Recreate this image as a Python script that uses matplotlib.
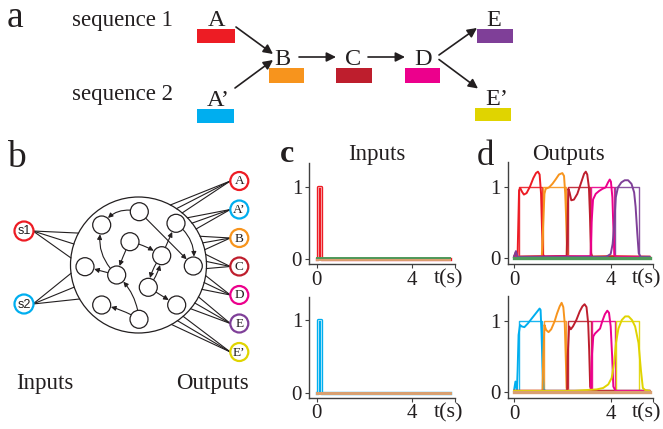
import numpy as np
import matplotlib
matplotlib.use('Agg')
import matplotlib.pyplot as plt
from matplotlib.patches import Circle, Rectangle

plt.rcParams['font.family'] = ['Liberation Serif', 'DejaVu Serif']

# ---------------- data ----------------
COL = {'A': '#ED1C24', 'A’': '#00AEEF', 'B': '#F7941D', 'C': '#BE1E2D',
       'D': '#EC008C', 'E': '#7F3F98', 'E’': '#E0D400'}
INK = '#231F20'
AX = '#404040'

# inputs (panel c)
input1_t = [0, 0.05, 0.05, 0.2, 0.2, 5.6]
input1_v = [0, 0, 1, 1, 0, 0]
input2_t = [0, 0.05, 0.05, 0.2, 0.2, 5.6]
input2_v = [0, 0, 1, 1, 0, 0]
baseline_t = [0, 5.62]
baseline_v = [0, 0]

# targets (panel d)
seq1_labels = ['A', 'B', 'C', 'D', 'E']
seq1_start = [0.20, 1.22, 2.22, 3.20, 4.18]
seq1_end = [1.16, 2.17, 3.16, 4.12, 5.16]
seq2_labels = ['A’', 'B', 'C', 'D', 'E’']
seq2_start = [0.22, 1.24, 2.24, 3.21, 4.22]
seq2_end = [1.17, 2.17, 3.17, 4.18, 5.19]

# network outputs, sequence 1
out1_A_t = [0, 0.07, 0.12, 0.15, 0.18, 0.21, 0.26, 0.33, 0.41, 0.52, 0.66, 0.80, 0.91, 0.99, 1.06, 1.12, 1.16, 1.20, 1.27, 2.0, 3.0, 4.0, 5.6]
out1_A_v = [0.02, 0.08, 0.01, 0.05, 0.5, 0.95, 0.98, 0.93, 0.89, 0.91, 1.0, 1.12, 1.19, 1.21, 1.17, 0.9, 0.4, 0.05, 0.02, 0.03, 0.02, 0.03, 0.02]
out1_B_t = [0, 1.15, 1.21, 1.26, 1.31, 1.45, 1.59, 1.72, 1.86, 2.0, 2.07, 2.12, 2.17, 2.21, 2.3, 5.6]
out1_B_v = [0.02, 0.03, 0.5, 0.9, 0.97, 0.99, 1.04, 1.1, 1.17, 1.19, 1.15, 0.9, 0.44, 0.03, 0.02, 0.02]
out1_C_t = [0, 2.18, 2.22, 2.25, 2.30, 2.37, 2.48, 2.62, 2.76, 2.90, 2.97, 3.03, 3.10, 3.14, 3.19, 3.24, 5.6]
out1_C_v = [0.02, 0.03, 0.6, 0.97, 0.92, 0.81, 0.82, 0.9, 1.04, 1.18, 1.21, 1.17, 0.99, 0.62, 0.07, 0.02, 0.02]
out1_D_t = [0, 3.17, 3.21, 3.27, 3.38, 3.52, 3.66, 3.79, 3.89, 3.96, 4.01, 4.07, 4.11, 4.15, 4.21, 5.6]
out1_D_v = [0.02, 0.03, 0.5, 0.82, 0.9, 0.94, 0.97, 0.99, 1.06, 1.1, 1.07, 0.85, 0.44, 0.05, 0.02, 0.02]
out1_E_t = [0, 0.08, 0.15, 3.8, 3.86, 4.0, 4.08, 4.14, 4.21, 4.30, 4.44, 4.58, 4.72, 4.86, 4.97, 5.03, 5.10, 5.16, 5.24, 5.6]
out1_E_v = [0.02, 0.1, 0.02, 0.02, 0.03, 0.06, 0.2, 0.44, 0.85, 0.99, 1.06, 1.09, 1.09, 1.04, 0.92, 0.72, 0.35, 0.07, 0.02, 0.02]

# network outputs, sequence 2
out2_A_t = [0, 0.06, 0.12, 0.15, 0.19, 0.25, 0.32, 0.43, 0.57, 0.71, 0.85, 0.99, 1.06, 1.10, 1.14, 1.18, 1.22, 1.3, 5.6]
out2_A_v = [0.02, 0.15, 0.03, 0.3, 0.8, 0.94, 0.92, 0.91, 0.96, 1.02, 1.08, 1.14, 1.17, 1.15, 0.82, 0.36, 0.04, 0.02, 0.02]
out2_B_t = [0, 1.18, 1.21, 1.26, 1.33, 1.43, 1.54, 1.68, 1.78, 1.89, 1.97, 2.04, 2.10, 2.14, 2.18, 2.25, 5.6]
out2_B_v = [0.02, 0.02, 0.5, 0.94, 0.87, 0.84, 0.88, 0.99, 1.1, 1.2, 1.25, 1.19, 0.96, 0.5, 0.06, 0.02, 0.02]
out2_C_t = [0, 2.2, 2.22, 2.28, 2.35, 2.44, 2.58, 2.72, 2.83, 2.92, 3.0, 3.07, 3.11, 3.15, 3.22, 5.6]
out2_C_v = [0.02, 0.02, 0.5, 0.92, 0.88, 0.92, 1.01, 1.13, 1.2, 1.23, 1.19, 0.96, 0.59, 0.08, 0.02, 0.02]
out2_D_t = [0, 3.17, 3.22, 3.28, 3.35, 3.44, 3.56, 3.65, 3.76, 3.86, 3.93, 4.0, 4.06, 4.11, 4.2, 5.6]
out2_D_v = [0.02, 0.02, 0.5, 0.78, 0.82, 0.85, 0.89, 0.99, 1.09, 1.14, 1.11, 0.92, 0.5, 0.08, 0.02, 0.02]
out2_E_t = [0, 2.5, 3.42, 3.69, 3.90, 4.04, 4.14, 4.22, 4.32, 4.46, 4.60, 4.74, 4.88, 5.01, 5.15, 5.25, 5.33, 5.43, 5.6]
out2_E_v = [0.02, 0.02, 0.04, 0.06, 0.11, 0.2, 0.41, 0.69, 0.89, 1.01, 1.06, 1.06, 1.01, 0.92, 0.69, 0.31, 0.06, 0.03, 0.02]

# ---------------- figure ----------------
W, H = 663, 429
fig = plt.figure(figsize=(W / 100, H / 100), dpi=100)
bg = fig.add_axes([0, 0, 1, 1])
bg.set_xlim(0, W)
bg.set_ylim(H, 0)
bg.axis('off')

def txt(x, y, s, size, **kw):
    kw.setdefault('ha', 'center')
    kw.setdefault('va', 'baseline')
    bg.text(x, y, s, fontsize=size, color=INK, **kw)

def arrow(p0, p1, lw=1.2, ms=14, rad=0.0, shrink=0):
    bg.annotate('', xy=p1, xytext=p0,
                arrowprops=dict(arrowstyle='-|>', color=INK, lw=lw,
                                mutation_scale=ms, shrinkA=shrink, shrinkB=shrink,
                                connectionstyle=f'arc3,rad={rad}'))

# panel letters
txt(15, 27, 'a', 27)
txt(16, 167, 'b', 27)
txt(287, 162, 'c', 23, fontweight='bold')
txt(485, 165, 'd', 25)

# ----- panel a -----
txt(122.5, 26, 'sequence 1', 16.5)
txt(122.5, 100, 'sequence 2', 16.5)
letters_a = {'A': (216.7, 26, 196.7, 29.3, 38.3, 14),
             'A’': (218, 106, 196.7, 108.5, 37.5, 14),
             'B': (282, 65, 269.3, 68.3, 34.7, 14.4),
             'C': (353.3, 65, 336, 68.3, 36, 14.4),
             'D': (422.7, 65, 405, 68.3, 35, 14.4),
             'E': (493.3, 26, 476.7, 29.3, 36, 14),
             'E’': (496.7, 105, 475, 108.3, 36, 12.4)}
for k, (lx, ly, rx, ry, rw, rh) in letters_a.items():
    txt(lx, ly, k, 17.5)
    bg.add_patch(Rectangle((rx, ry), rw, rh, color=COL[k], lw=0))
arrow((236, 27), (273, 54))
arrow((235, 88), (273, 60))
arrow((299, 57), (336, 57))
arrow((368, 57), (405, 57))
arrow((439, 55), (477, 28))
arrow((439, 59.5), (478, 88.5))

# ----- panel b -----
cx, cy, R = 138.5, 265, 68
bg.add_patch(Circle((cx, cy), R, fill=False, ec=INK, lw=0.9))
nodes = [(139.3, 211.7), (101.7, 225), (176, 223.3), (130, 241.7), (161.7, 255.7),
         (85, 266.7), (193.3, 266), (116.7, 275), (148.3, 287.3), (101.7, 305),
         (176.7, 305), (139, 319.3)]
for (x, y) in nodes:
    bg.add_patch(Circle((x, y), 9, fill=True, fc='white', ec=INK, lw=0.9))
edges = [(0, 1, 0.35), (0, 6, 0.0), (2, 6, -0.3), (3, 4, -0.1), (3, 7, 0.05),
         (7, 1, -0.3), (7, 5, 0.0), (4, 2, 0.0), (8, 4, 0.15), (4, 8, 0.15),
         (8, 10, 0.0), (11, 7, 0.2), (11, 9, 0.1)]
for a, b, r in edges:
    arrow(nodes[a], nodes[b], lw=0.8, ms=7, rad=r, shrink=6.8)

# inputs
in_nodes = {'s1': ((24, 231), COL['A'], [152, 162, 174]),
            's2': ((24, 304), COL['A’'], [187, 199, 210])}
for lab, ((x, y), c, angs) in in_nodes.items():
    for a in angs:
        th = np.deg2rad(a)
        bg.plot([x + 9, cx + R * np.cos(th)], [y, cy - R * np.sin(th)], color=INK, lw=0.8)
    bg.add_patch(Circle((x, y), 9.5, fc='white', ec=c, lw=1.6, zorder=3))
    bg.text(x, y + 0.5, lab, fontsize=9, ha='center', va='center', color=INK,
            family='Liberation Sans', zorder=4)

out_names = ['A', 'A’', 'B', 'C', 'D', 'E', 'E’']
out_angles = [56, 38, 19, 3, -15, -34, -55]
for i, (nm, am) in enumerate(zip(out_names, out_angles)):
    x, y = 239.3, 181 + i * 28.5
    for d in (-6, 0, 6):
        th = np.deg2rad(am + d)
        bg.plot([x - 9, cx + R * np.cos(th)], [y, cy - R * np.sin(th)], color=INK, lw=0.8)
    bg.add_patch(Circle((x, y), 9, fc='white', ec=COL[nm], lw=1.6, zorder=3))
    bg.text(x, y + 0.5, nm, fontsize=9.5, ha='center', va='center', color=INK, zorder=4)

txt(45, 389, 'Inputs', 16.5)
txt(212.7, 389, 'Outputs', 16.5)

# ----- panels c, d -----
def mkax(l, r, t, b, xlim, ylim):
    ax = fig.add_axes([l / W, 1 - b / H, (r - l) / W, (b - t) / H])
    ax.set_xlim(*xlim)
    ax.set_ylim(*ylim)
    for s in ('top', 'right'):
        ax.spines[s].set_visible(False)
    for s in ('left', 'bottom'):
        ax.spines[s].set_color(AX)
        ax.spines[s].set_linewidth(1.0)
    ax.set_xticks([0, 4])
    ax.set_yticks([0, 1])
    ax.set_xticks([xlim[1] - 0.02], minor=True)
    ax.tick_params(which='both', length=3, width=0.8, color=AX, labelsize=15,
                   labelcolor=INK, pad=2)
    ax.patch.set_alpha(0)
    return ax

cxl, cyl = (-0.324, 5.82), (-0.069, 1.333)
dxl, dyl = (-0.26, 5.75), (-0.08, 1.345)
ax_c1 = mkax(309, 455, 163, 264, cxl, cyl)
ax_c2 = mkax(309, 455, 296.5, 397.5, cxl, cyl)
ax_d1 = mkax(507.7, 653, 162, 264, dxl, dyl)
ax_d2 = mkax(507.7, 653, 296, 398, dxl, dyl)

GREEN = '#4E9A5A'
TAN = '#D9A070'
ax_c1.plot(input1_t, input1_v, color=COL['A'], lw=2.4)
ax_c1.plot(input1_t, input1_v, color='#F8A0A4', lw=0.7)
ax_c1.plot(baseline_t, [v - 0.012 for v in baseline_v], color=TAN, lw=1.4)
ax_c1.plot(baseline_t, [v + 0.01 for v in baseline_v], color=GREEN, lw=1.4)
ax_c2.plot(input2_t, input2_v, color=COL['A’'], lw=2.4)
ax_c2.plot(input2_t, input2_v, color='#A8E4F8', lw=0.7)
ax_c2.plot(baseline_t, baseline_v, color=TAN, lw=2.2)

def targets(ax, labels, starts, ends):
    for lab, s, e in zip(labels, starts, ends):
        ax.plot([s, s, e, e], [0, 1, 1, 0], color=COL[lab], lw=1.0, alpha=0.9)

targets(ax_d1, seq1_labels, seq1_start, seq1_end)
for lab, t, v in zip(seq1_labels, [out1_A_t, out1_B_t, out1_C_t, out1_D_t, out1_E_t],
                     [out1_A_v, out1_B_v, out1_C_v, out1_D_v, out1_E_v]):
    ax_d1.plot(t, v, color=COL[lab], lw=1.4)
ax_d1.plot(baseline_t, baseline_v, color=GREEN, lw=2.4)

targets(ax_d2, seq2_labels, seq2_start, seq2_end)
for lab, t, v in zip(seq2_labels, [out2_A_t, out2_B_t, out2_C_t, out2_D_t, out2_E_t],
                     [out2_A_v, out2_B_v, out2_C_v, out2_D_v, out2_E_v]):
    ax_d2.plot(t, v, color=COL[lab], lw=1.4)
ax_d2.plot(baseline_t, baseline_v, color=TAN, lw=2.4)

txt(376.7, 160, 'Inputs', 16.5)
txt(568.3, 160, 'Outputs', 16.5)
for (x, y) in [(448.5, 283), (448.5, 417), (646.5, 283), (646.5, 417)]:
    txt(x, y, 't(s)', 16)

fig.savefig('out.png', dpi=100)
